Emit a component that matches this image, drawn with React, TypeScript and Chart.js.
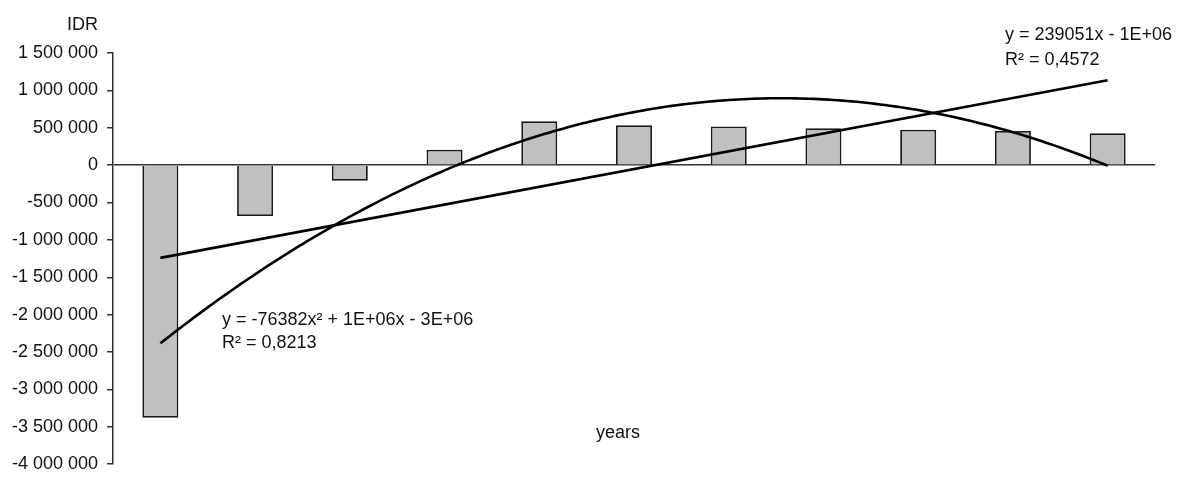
import React, { useEffect, useRef } from "react";
import { Chart, registerables } from "chart.js";

Chart.register(...registerables);

const categories = ["1", "2", "3", "4", "5", "6", "7", "8", "9", "10", "11"];
const values = [-3380000, -680000, -210000, 205000, 586000, 534000, 517000, 495000, 473000, 456000, 426000];
const yMin = -4000000;
const yMax = 1500000;
const yStep = 500000;
const yTitle = "IDR";
const xTitle = "years";
const linearEq = ["y = 239051x - 1E+06", "R² = 0,4572"];
const polyEq = ["y = -76382x² + 1E+06x - 3E+06", "R² = 0,8213"];

const FONT = "'Liberation Sans', Arial, sans-serif";

function linearFit(ys: number[]) {
  const n = ys.length;
  const xs = ys.map((_, i) => i + 1);
  const mx = xs.reduce((a, b) => a + b, 0) / n;
  const my = ys.reduce((a, b) => a + b, 0) / n;
  let sxy = 0, sxx = 0;
  for (let i = 0; i < n; i++) {
    sxy += (xs[i] - mx) * (ys[i] - my);
    sxx += (xs[i] - mx) * (xs[i] - mx);
  }
  const b = sxy / sxx;
  return { a: my - b * mx, b };
}

function quadFit(ys: number[]) {
  const S = [0, 0, 0, 0, 0];
  const T = [0, 0, 0];
  ys.forEach((y, i) => {
    const x = i + 1;
    for (let k = 0; k < 5; k++) S[k] += Math.pow(x, k);
    for (let k = 0; k < 3; k++) T[k] += y * Math.pow(x, k);
  });
  const M = [
    [S[0], S[1], S[2], T[0]],
    [S[1], S[2], S[3], T[1]],
    [S[2], S[3], S[4], T[2]],
  ];
  for (let c = 0; c < 3; c++) {
    for (let r = c + 1; r < 3; r++) {
      const f = M[r][c] / M[c][c];
      for (let k = c; k < 4; k++) M[r][k] -= f * M[c][k];
    }
  }
  const sol = [0, 0, 0];
  for (let r = 2; r >= 0; r--) {
    let s = M[r][3];
    for (let k = r + 1; k < 3; k++) s -= M[r][k] * sol[k];
    sol[r] = s / M[r][r];
  }
  return sol;
}

function fmt(v: number) {
  const s = Math.abs(v).toFixed(0).replace(/\B(?=(\d{3})+(?!\d))/g, " ");
  return (v < 0 ? "-" : "") + s;
}

export default function App() {
  const ref = useRef<HTMLCanvasElement>(null);
  useEffect(() => {
    if (!ref.current) return;
    const lin = linearFit(values);
    const q = quadFit(values);
    const n = values.length;
    const linPts = [1, n].map((x) => ({ x, y: lin.a + lin.b * x }));
    const quadPts: { x: number; y: number }[] = [];
    for (let i = 0; i <= 200; i++) {
      const x = 1 + ((n - 1) * i) / 200;
      quadPts.push({ x, y: q[0] + q[1] * x + q[2] * x * x });
    }

    const textPlugin = {
      id: "texts",
      afterDraw(chart: any) {
        const ctx = chart.ctx;
        ctx.save();
        ctx.fillStyle = "#111";
        ctx.font = `18px ${FONT}`;
        ctx.textBaseline = "alphabetic";
        ctx.textAlign = "left";
        ctx.fillText(yTitle, 67, 30);
        ctx.fillText(xTitle, 596, 438);
        ctx.fillText(linearEq[0], 1005, 40);
        ctx.fillText(linearEq[1], 1005, 65);
        ctx.fillText(polyEq[0], 222, 325);
        ctx.fillText(polyEq[1], 222, 348);
        ctx.restore();
      },
    };

    const chart = new Chart(ref.current, {
      type: "bar",
      data: {
        labels: categories,
        datasets: [
          {
            type: "bar",
            data: values,
            backgroundColor: "#c0c0c0",
            borderColor: "#1a1a1a",
            borderWidth: 1.8,
            barPercentage: 0.38,
            categoryPercentage: 1,
            grouped: false,
            xAxisID: "x",
            order: 2,
          } as any,
          {
            type: "line",
            data: linPts,
            xAxisID: "x2",
            borderColor: "#000",
            borderWidth: 2.6,
            pointRadius: 0,
            fill: false,
            order: 1,
          } as any,
          {
            type: "line",
            data: quadPts,
            xAxisID: "x2",
            borderColor: "#000",
            borderWidth: 2.6,
            pointRadius: 0,
            fill: false,
            order: 1,
          } as any,
        ],
      },
      options: {
        responsive: false,
        animation: false,
        layout: { padding: { left: 0, right: 37, top: 53, bottom: 9 } },
        plugins: { legend: { display: false }, tooltip: { enabled: false } },
        scales: {
          x: { display: false, offset: true },
          x2: { type: "linear", display: false, offset: false, min: 0.5, max: n + 0.5 },
          y: {
            min: yMin,
            max: yMax,
            afterFit: (s: any) => {
              s.width = 113;
            },
            ticks: {
              stepSize: yStep,
              color: "#111",
              padding: 9,
              font: { family: FONT, size: 18 },
              callback: (v: any) => fmt(Number(v)),
            },
            grid: {
              color: (c: any) => (c.tick && c.tick.value === 0 ? "#333" : "rgba(0,0,0,0)"),
              lineWidth: 1.5,
              tickColor: "#333",
              tickLength: 6,
              tickWidth: 1.5,
            },
            border: { display: true, color: "#333", width: 1.5 },
          },
        },
      } as any,
      plugins: [textPlugin],
    });
    return () => chart.destroy();
  }, []);
  return (
    <div style={{ position: "fixed", left: 0, top: 0, width: 1192, height: 484, background: "#fff" }}>
      <canvas ref={ref} width={1192} height={484} style={{ width: 1192, height: 484 }} />
    </div>
  );
}
